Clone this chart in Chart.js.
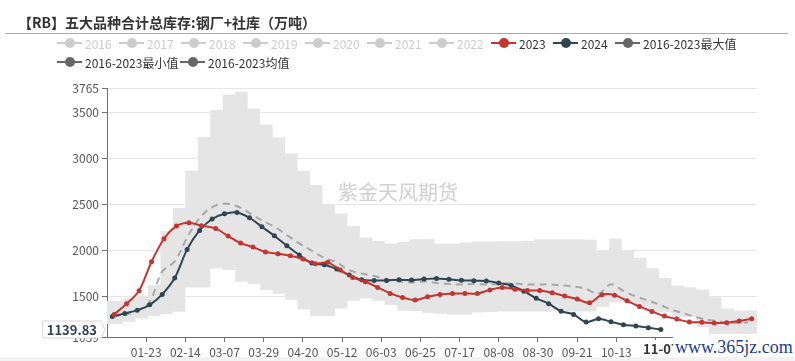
<!DOCTYPE html>
<html>
<head>
<meta charset="utf-8">
<script src="https://cdn.jsdelivr.net/npm/chart.js@4.4.0/dist/chart.umd.min.js"></script>
<style>
  html, body { margin:0; padding:0; background:#fff; }
  #wrap { position:relative; width:795px; height:361px; overflow:hidden; font-family:"Noto Sans CJK SC", sans-serif; }
  #chartBox { position:absolute; left:0; top:0; width:795px; height:361px; }
  #title { position:absolute; left:18px; top:12px; font-size:14px; font-weight:bold; color:#333; line-height:20px; white-space:nowrap; }
  #titleLine { position:absolute; left:5px; top:33px; width:783px; height:1px; background:#aaa; }
  .row { position:absolute; left:57px; display:flex; align-items:center; height:16px; white-space:nowrap; }
  #row1 { top:35px; }
  #row2 { top:54px; }
  .item { display:flex; align-items:center; font-size:12px; }
  .item.yr { width:62px; }
  .item.wide { width:123px; }
  .ico { position:relative; width:25px; height:12px; flex:none; }
  .ico .ln { position:absolute; left:0; top:5px; width:25px; height:2px; }
  .ico .dot { position:absolute; left:7.5px; top:1px; width:10px; height:10px; border-radius:50%; }
  .tx { margin-left:3px; }
  #wm { position:absolute; left:673px; top:337px; width:122px; height:20px; background:#fff; font-family:"Liberation Serif", serif; font-size:18px; color:#1d3d8c; line-height:20px; padding-left:2px; }
  #bottomStrip { position:absolute; left:0; top:357px; width:795px; height:4px; background:#f2f2f2; }
</style>
</head>
<body>
<div id="wrap">
  <div id="chartBox"><canvas id="c"></canvas></div>
  <div id="title">【RB】五大品种合计总库存:钢厂+社库（万吨）</div>
  <div id="titleLine"></div>
  <div class="row" id="row1"></div>
  <div class="row" id="row2"></div>
  <div id="bottomStrip"></div>
  <div id="wm">www.365jz.com</div>
</div>
<script>
// ---------- categories (one leap-year calendar, MM-DD) ----------
const monthDays = [31,29,31,30,31,30,31,31,30,31,30,31];
const dayLabels = [];
monthDays.forEach((n, m) => {
  for (let d = 1; d <= n; d++) dayLabels.push(String(m + 1).padStart(2, '0') + '-' + String(d).padStart(2, '0'));
});

// ---------- series ----------
const dates2023 = ['01-05','01-12','01-19','01-26','02-02','02-09','02-16','02-23','03-02','03-09','03-16','03-23','03-30',
  '04-06','04-13','04-20','04-27','05-04','05-11','05-18','05-25','06-01','06-08','06-15','06-22','06-29',
  '07-06','07-13','07-20','07-27','08-03','08-10','08-17','08-24','08-31','09-07','09-14','09-21','09-28',
  '10-05','10-12','10-19','10-26','11-02','11-09','11-16','11-23','11-30','12-07','12-14','12-21','12-28'];
const values2023 = [1304,1420,1562,1877,2127,2264,2301,2268,2239,2156,2080,2036,1982,
  1964,1942,1906,1855,1870,1786,1706,1659,1598,1533,1489,1460,1496,
  1521,1532,1532,1532,1571,1596,1579,1564,1564,1539,1504,1471,1430,
  1518,1514,1453,1391,1337,1286,1254,1221,1218,1210,1214,1232,1257];

const dates2024 = ['01-04','01-11','01-18','01-25','02-01','02-08','02-15','02-22','02-29','03-07','03-14','03-21','03-28',
  '04-04','04-11','04-18','04-25','05-02','05-09','05-16','05-23','05-30','06-06','06-13','06-20','06-27',
  '07-04','07-11','07-18','07-25','08-01','08-08','08-15','08-22','08-29','09-05','09-12','09-19','09-26',
  '10-03','10-10','10-17','10-24','10-31','11-07'];
const values2024 = [1283,1315,1351,1409,1522,1699,2011,2217,2341,2398,2413,2355,2257,
  2159,2051,1949,1862,1844,1797,1732,1681,1674,1674,1681,1678,1688,
  1696,1686,1675,1671,1668,1646,1618,1557,1479,1421,1339,1304,1221,
  1257,1225,1192,1178,1160,1139.83];

const avgDates = ['01-04','01-11','01-18','01-25','02-01','02-08','02-15','02-22','02-29','03-07','03-14','03-21','03-28',
  '04-04','04-11','04-18','04-25','05-02','05-09','05-16','05-23','05-30','06-06','06-13','06-20','06-27',
  '07-04','07-11','07-18','07-25','08-01','08-08','08-15','08-22','08-29','09-05','09-12','09-19','09-26',
  '10-03','10-10','10-17','10-24','10-31','11-07','11-14','11-21','11-28','12-05','12-12','12-19','12-26'];
const avgValues = [1285,1300,1345,1445,1770,1880,2140,2350,2470,2508,2480,2405,2325,
  2257,2167,2076,1996,1920,1870,1786,1750,1721,1685,1663,1652,1663,
  1646,1636,1629,1636,1629,1636,1643,1632,1629,1632,1621,1607,1582,
  1530,1632,1560,1500,1455,1405,1350,1310,1268,1240,1222,1210,1220];

const bandDates = ['01-01','01-03','01-10','01-17','01-24','01-31','02-07','02-14','02-21','02-28','03-06','03-13','03-20','03-27',
  '04-03','04-10','04-17','04-24','05-01','05-08','05-15','05-22','05-29','06-05','06-12','06-19','06-26',
  '07-03','07-10','07-17','07-24','07-31','08-07','08-14','08-21','08-28','09-04','09-11','09-18','09-25',
  '10-02','10-09','10-16','10-23','10-30','11-06','11-13','11-20','11-27','12-04','12-11','12-18','12-25','12-31'];
const bandMax = [1449,1449,1480,1510,1623,2210,2460,2862,3235,3525,3695,3724,3543,3369,
  3228,3054,2866,2710,2504,2402,2264,2138,2101,2076,2094,2120,2125,
  2072,2072,2085,2098,2098,2100,2100,2105,2120,2120,2120,2120,2115,
  1995,2130,1995,1920,1805,1700,1620,1600,1575,1490,1370,1345,1350,1400];
const bandMin = [1199,1199,1225,1261,1286,1310,1333,1598,1598,1804,1786,1659,1634,1569,
  1530,1465,1359,1286,1286,1370,1453,1478,1453,1406,1345,1340,1321,
  1312,1300,1300,1325,1330,1335,1335,1335,1335,1335,1335,1335,1335,
  1384,1438,1438,1384,1330,1330,1275,1275,1167,1095,1095,1095,1095,1120];

const yTicks = [1059,1500,2000,2500,3000,3500,3765];
const xLabelStep = 22;

const legendRow1 = ['2016','2017','2018','2019','2020','2021','2022','2023','2024','2016-2023最大值'];
const legendRow2 = ['2016-2023最小值','2016-2023均值'];
const inactiveNames = ['2016','2017','2018','2019','2020','2021','2022'];

// ---------- styles ----------
const RED = '#c23531', DARK = '#2f4554', GREY = '#666', OFF = '#ccc';
const legendColor = n => inactiveNames.includes(n) ? OFF : (n === '2023' ? RED : n === '2024' ? DARK : GREY);

function buildRow(el, names, cls) {
  names.forEach(n => {
    const c = legendColor(n);
    const it = document.createElement('div');
    it.className = 'item ' + (n.length <= 4 ? 'yr' : cls);
    it.innerHTML = '<span class="ico"><i class="ln" style="background:' + c + '"></i><i class="dot" style="background:' + c + '"></i></span>' +
      '<span class="tx" style="color:' + (inactiveNames.includes(n) ? OFF : '#333') + '">' + n + '</span>';
    el.appendChild(it);
  });
}
buildRow(document.getElementById('row1'), legendRow1, 'last');
buildRow(document.getElementById('row2'), legendRow2, 'wide');

const pts = (d, v) => d.map((x, i) => ({ x, y: v[i] }));

Chart.defaults.font.family = '"Noto Sans CJK SC", sans-serif';

const overlay = {
  id: 'overlay',
  afterDraw(chart) {
    const ctx = chart.ctx, xs = chart.scales.x, ys = chart.scales.y;
    ctx.save();
    // watermark
    ctx.font = '20px "Noto Sans CJK SC"';
    ctx.fillStyle = '#d0d0d0';
    ctx.textAlign = 'center';
    ctx.textBaseline = 'middle';
    ctx.fillText('紫金天风期货', 398, 192);

    // axis pointer labels at the latest 2024 value
    const lastVal = values2024[values2024.length - 1];
    const lastDate = dates2024[dates2024.length - 1];
    const py = ys.getPixelForValue(lastVal);
    const px = xs.getPixelForValue(dayLabels.indexOf(lastDate));

    ctx.font = 'bold 13px "Noto Sans CJK SC"';
    const txt = lastVal.toFixed(2);
    const w = ctx.measureText(txt).width + 8;
    const right = ys.right - 6, left = right - w, h = 17;
    ctx.beginPath();
    ctx.moveTo(left, py - h / 2);
    ctx.lineTo(right, py - h / 2);
    ctx.lineTo(right + 4, py);
    ctx.lineTo(right, py + h / 2);
    ctx.lineTo(left, py + h / 2);
    ctx.closePath();
    ctx.fillStyle = '#fff';
    ctx.fill();
    ctx.strokeStyle = '#d6d6d6';
    ctx.lineWidth = 1;
    ctx.stroke();
    ctx.fillStyle = DARK;
    ctx.fillText(txt, left + w / 2, py + 0.5);

    const xw = ctx.measureText(lastDate).width + 8;
    const ly = xs.top + 12;
    ctx.fillStyle = '#fff';
    ctx.fillRect(px - xw / 2, ly - 9, xw, 18);
    ctx.fillStyle = '#333';
    ctx.fillText(lastDate, px, ly);
    ctx.restore();
  }
};

new Chart(document.getElementById('c'), {
  type: 'line',
  data: {
    labels: dayLabels,
    datasets: [
      { label: '2016-2023最大值', data: pts(bandDates, bandMax), stepped: 'before', borderWidth: 0, pointRadius: 0,
        backgroundColor: '#e5e5e5', fill: '+1', order: 5 },
      { label: '2016-2023最小值', data: pts(bandDates, bandMin), stepped: 'before', borderWidth: 0, pointRadius: 0,
        fill: false, order: 4 },
      { label: '2016-2023均值', data: pts(avgDates, avgValues), borderColor: '#a8a8a8', borderWidth: 2, borderDash: [7, 5],
        pointRadius: 0, tension: 0.35, fill: false, order: 3 },
      { label: '2024', data: pts(dates2024, values2024), borderColor: DARK, backgroundColor: DARK, borderWidth: 2,
        pointRadius: 2.5, pointBorderWidth: 0, pointBackgroundColor: DARK, tension: 0.3, fill: false, order: 2 },
      { label: '2023', data: pts(dates2023, values2023), borderColor: RED, backgroundColor: RED, borderWidth: 2,
        pointRadius: 2.5, pointBorderWidth: 0, pointBackgroundColor: RED, tension: 0.3, fill: false, order: 1 }
    ]
  },
  options: {
    responsive: true,
    maintainAspectRatio: false,
    animation: false,
    devicePixelRatio: 1,
    layout: { padding: { left: 0, right: 38, top: 88, bottom: 0 } },
    plugins: { legend: { display: false }, tooltip: { enabled: false }, title: { display: false } },
    scales: {
      x: {
        type: 'category',
        offset: false,
        grid: { drawOnChartArea: false, drawTicks: true, tickLength: 5, tickColor: '#6e7079' },
        border: { color: '#6e7079', width: 1 },
        ticks: {
          autoSkip: false, maxRotation: 0, minRotation: 0, padding: 3, color: '#555', font: { size: 12 },
          callback: (v, i) => (i > 0 && i % xLabelStep === 0) ? dayLabels[i] : null
        },
        afterFit: s => { s.height = 24; }
      },
      y: {
        min: 1059, max: 3765,
        afterBuildTicks: s => { s.ticks = yTicks.map(v => ({ value: v })); },
        grid: { color: '#e6e6e6', tickColor: '#6e7079', tickLength: 5 },
        border: { color: '#6e7079', width: 1 },
        ticks: { color: '#555', font: { size: 12 }, padding: 3, callback: v => String(v) },
        afterFit: s => { s.width = 107; }
      }
    }
  },
  plugins: [overlay]
});
</script>
</body>
</html>
